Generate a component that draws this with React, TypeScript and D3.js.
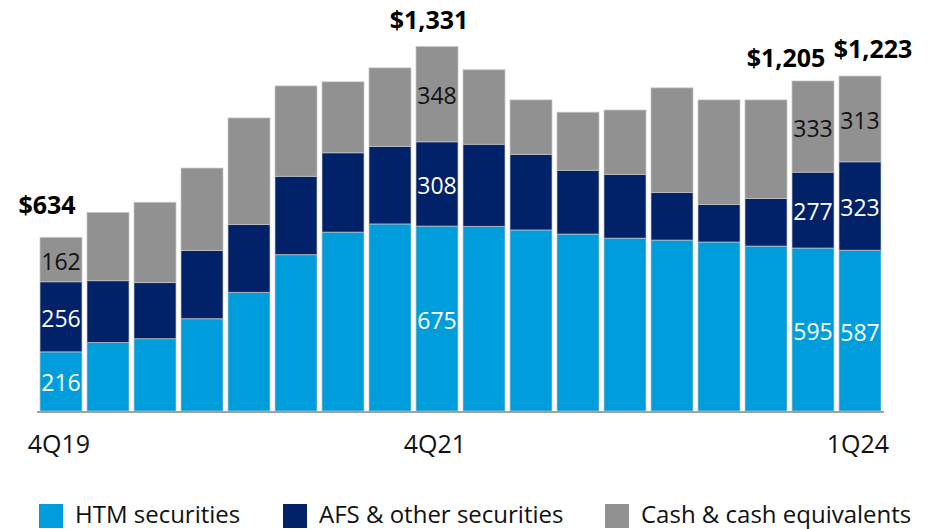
import React from 'react';
import * as d3 from 'd3';

const quarters = ['4Q19', '1Q20', '2Q20', '3Q20', '4Q20', '1Q21', '2Q21', '3Q21', '4Q21',
  '1Q22', '2Q22', '3Q22', '4Q22', '1Q23', '2Q23', '3Q23', '4Q23', '1Q24'];
const htm = [216, 250, 264, 337, 433, 571, 653, 683, 675, 674, 661, 646, 631, 624, 617, 602, 595, 587];
const afs = [256, 226, 205, 249, 248, 286, 290, 283, 308, 300, 276, 233, 233, 174, 137, 174, 277, 323];
const cash = [162, 249, 293, 301, 389, 330, 259, 287, 348, 272, 199, 212, 235, 382, 382, 360, 333, 313];
const tickLabels = ['4Q19', '4Q21', '1Q24'];
const labeledQuarters = ['4Q19', '4Q21', '4Q23', '1Q24'];
const seriesNames = ['HTM securities', 'AFS & other securities', 'Cash & cash equivalents'];

const W = 936;
const H = 529;
const keys = ['htm', 'afs', 'cash'];
const colors = { htm: '#009ddc', afs: '#012169', cash: '#919191' };
const textColors = { htm: '#ffffff', afs: '#ffffff', cash: '#111111' };
// small nudges so the totals don't collide with each other
const totalOffset = { '4Q19': [-14, 23], '4Q21': [-8, 17], '4Q23': [-27, 14], '1Q24': [13, 18] };
const font = '"Open Sans", "Noto Sans", sans-serif';

export default function App() {
  const rows = quarters.map((q, i) => ({ q, htm: htm[i], afs: afs[i], cash: cash[i] }));
  const stacked = d3.stack().keys(keys)(rows as any);

  const x = d3.scaleBand().domain(quarters).range([40, 881]).paddingInner(5 / 47).paddingOuter(0);
  const y = d3.scaleLinear().domain([0, 1340]).range([411, 44]);
  const bw = x.bandwidth();

  return (
    <svg width={W} height={H} style={{ position: 'absolute', left: 0, top: 0, fontFamily: font }}>
      {stacked.map(layer => (
        <g key={layer.key}>
          {layer.map((d, i) => (
            <rect key={i}
              x={x(quarters[i])}
              y={y(d[1])}
              width={bw}
              height={y(d[0]) - y(d[1])}
              fill={colors[layer.key]}
              stroke="#c8c8c8"
              strokeOpacity={0.7}
              strokeWidth={1} />
          ))}
        </g>
      ))}

      <line x1={37} x2={884} y1={y(0) + 1} y2={y(0) + 1} stroke="#a0a0a0" strokeWidth={2} />

      {stacked.map(layer => layer.map((d, i) => {
        const q = quarters[i];
        if (!labeledQuarters.includes(q)) return null;
        const mid = (y(d[0]) + y(d[1])) / 2;
        return (
          <text key={layer.key + q} x={x(q) + bw / 2} y={mid + 10} textAnchor="middle"
            fontSize={23} fill={textColors[layer.key]}>
            {d[1] - d[0]}
          </text>
        );
      }))}

      {labeledQuarters.map(q => {
        const i = quarters.indexOf(q);
        const total = htm[i] + afs[i] + cash[i];
        const [dx, dy] = totalOffset[q];
        return (
          <text key={'t' + q} x={x(q) + bw / 2 + dx} y={y(total) - dy} textAnchor="middle"
            fontSize={25} fontWeight="bold" fill="#000">
            {'$' + d3.format(',')(total)}
          </text>
        );
      })}

      {tickLabels.map(q => (
        <text key={'x' + q} x={x(q) + bw / 2 - 2} y={453} textAnchor="middle" fontSize={25} fill="#111">
          {q}
        </text>
      ))}

      {seriesNames.map((name, i) => {
        const lx = [39, 283, 605][i];
        return (
          <g key={name}>
            <rect x={lx} y={504} width={24} height={24} fill={colors[keys[i]]} />
            <text x={lx + 36} y={523} fontSize={24} fill="#111">{name}</text>
          </g>
        );
      })}
    </svg>
  );
}
